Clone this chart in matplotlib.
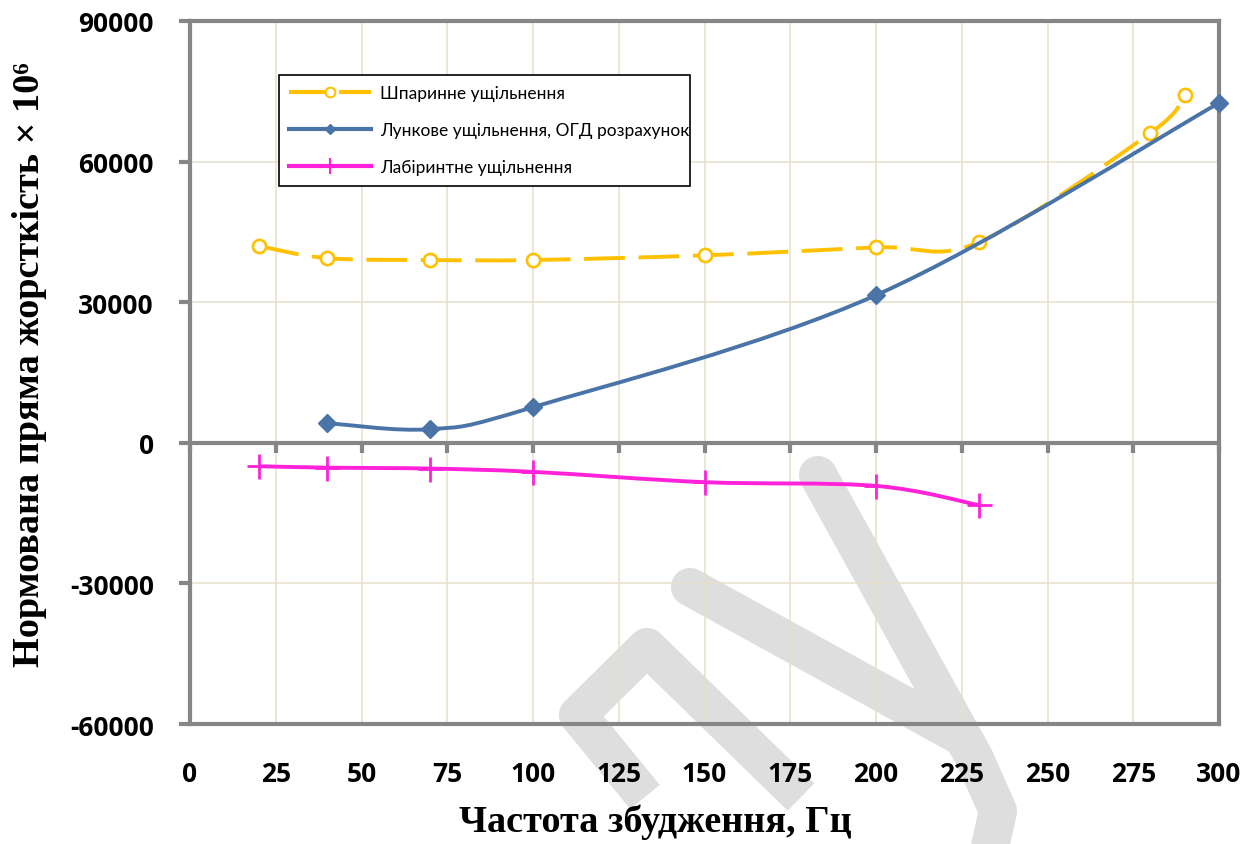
import matplotlib
matplotlib.use('Agg')
import matplotlib.pyplot as plt
from matplotlib.path import Path
from matplotlib.patches import PathPatch
from matplotlib.lines import Line2D
from matplotlib.markers import TICKDOWN
import numpy as np

plt.rcParams['axes.unicode_minus'] = False

# Data
freq_gap = [20, 40, 70, 100, 150, 200, 230, 280, 290]
stiff_gap = [42000, 39400, 39000, 39000, 40000, 41700, 42800, 66100, 74200]

freq_hole = [40, 70, 100, 200, 300]
stiff_hole = [4200, 2900, 7600, 31500, 72500]

freq_lab = [20, 40, 70, 100, 150, 200, 230]
stiff_lab = [-5000, -5300, -5500, -6200, -8400, -9200, -13300]

labels = ['Шпаринне ущільнення',
          'Лункове ущільнення, ОГД розрахунок',
          'Лабіринтне ущільнення']
x_ticks = list(range(0, 301, 25))
y_ticks = list(range(-60000, 90001, 30000))

c_gap = '#FFC000'
c_hole = '#4A73A8'
c_lab = '#FF22D8'
c_axis = '#868686'
c_grid = '#E4E0CC'


def smooth_path(xs, ys):
    # Bezier segments through the points, like a spreadsheet "smoothed line"
    p = np.column_stack([xs, ys]).astype(float)
    n = len(p)
    verts = [p[0]]
    codes = [Path.MOVETO]
    for i in range(n - 1):
        prev = p[i - 1] if i > 0 else p[i]
        nxt = p[i + 2] if i + 2 < n else p[i + 1]
        c1 = p[i] + (p[i + 1] - prev) / 6
        c2 = p[i + 1] - (nxt - p[i]) / 6
        verts += [c1, c2, p[i + 1]]
        codes += [Path.CURVE4] * 3
    return Path(verts, codes)


W, H = 1259, 845
fig = plt.figure(figsize=(W / 100, H / 100), dpi=100)

# grey watermark strokes behind the chart (pixel coords from top-left)
marks = [
    ([(645, 798), (578, 716), (647, 648), (801, 798)], 'butt'),
    ([(690, 588), (962, 738)], 'round'),
    ([(818, 476), (975, 760), (998, 812), (985, 870)], 'round'),
]
for pts, cap in marks:
    xs = [q[0] / W for q in pts]
    ys = [1 - q[1] / H for q in pts]
    fig.add_artist(Line2D(xs, ys, transform=fig.transFigure, color='#DEDEDE', lw=27.5,
                          solid_capstyle=cap, solid_joinstyle='round', zorder=-5))

ax = fig.add_axes([190 / W, 1 - 725 / H, 1029 / W, 703 / H])
ax.set_facecolor('none')
ax.set_xlim(0, 300)
ax.set_ylim(-60000, 90000)
ax.set_xticks(x_ticks)
ax.set_yticks(y_ticks)
ax.grid(True, color=c_grid, lw=1.1, zorder=0)
ax.set_axisbelow(True)

for s in ax.spines.values():
    s.set_color(c_axis)
    s.set_linewidth(3)
    s.set_zorder(2)

tick_font = {'family': 'Open Sans', 'weight': 'bold', 'size': 19}
ax.tick_params(axis='x', length=0, pad=26)
ax.tick_params(axis='y', direction='out', length=8, width=3, color=c_axis, pad=18)
ax.set_xticklabels([str(v) for v in x_ticks], fontdict=tick_font)
ax.set_yticklabels([str(v) for v in y_ticks], fontdict=tick_font)

# horizontal axis line through zero with its tick marks
ax.axhline(0, color=c_axis, lw=3, zorder=2)
ax.plot(x_ticks, [0] * len(x_ticks), ls='none', marker=TICKDOWN, ms=7, mew=3,
        color=c_axis, zorder=2, clip_on=False)

# series
ax.add_patch(PathPatch(smooth_path(freq_gap, stiff_gap), fill=False, edgecolor=c_gap,
                       lw=2.8, linestyle=(0, (10.5, 3.5)), capstyle='butt', zorder=3))
ax.plot(freq_gap, stiff_gap, ls='none', marker='o', ms=9.5, mfc='white', mec=c_gap,
        mew=1.9, zorder=4, clip_on=False)

ax.add_patch(PathPatch(smooth_path(freq_hole, stiff_hole), fill=False, edgecolor=c_hole,
                       lw=2.8, zorder=5, clip_on=False))
ax.plot(freq_hole, stiff_hole, ls='none', marker='D', ms=9, mfc=c_hole, mec=c_hole,
        zorder=6, clip_on=False)

ax.add_patch(PathPatch(smooth_path(freq_lab, stiff_lab), fill=False, edgecolor=c_lab,
                       lw=2.8, zorder=5))
ax.plot(freq_lab, stiff_lab, ls='none', marker='+', ms=18, mec=c_lab, mew=2,
        zorder=6, clip_on=False)

handles = [
    Line2D([], [], color=c_gap, lw=3, ls=(0, (10, 2)), marker='o', ms=7,
           mfc='white', mec=c_gap, mew=1.5),
    Line2D([], [], color=c_hole, lw=3, marker='D', ms=5.5, mfc=c_hole, mec=c_hole),
    Line2D([], [], color=c_lab, lw=3, marker='+', ms=11, mec=c_lab, mew=1.5),
]
leg = fig.legend(handles, labels, loc='upper left',
                 bbox_to_anchor=(279 / W, 1 - 194 / H, 411 / W, 118 / H), mode='expand',
                 borderaxespad=0, handlelength=4.7, handletextpad=0.5, labelspacing=1.2,
                 borderpad=0.6, numpoints=1, fancybox=False, framealpha=1,
                 edgecolor='black', prop={'family': 'Lato', 'size': 12.5})
leg.get_frame().set_linewidth(1.2)

serif = ['Liberation Serif', 'DejaVu Serif']
fig.text(30 / W, 1 - 365 / H, 'Нормована пряма жорсткість × 10⁶', rotation=90,
         ha='center', va='center', family=serif, weight='bold', fontsize=27.5)
fig.text(655 / W, 1 - 822 / H, 'Частота збудження, Гц', ha='center', va='center',
         family=serif, weight='bold', fontsize=27.5)

fig.savefig('out.png', dpi=100)
